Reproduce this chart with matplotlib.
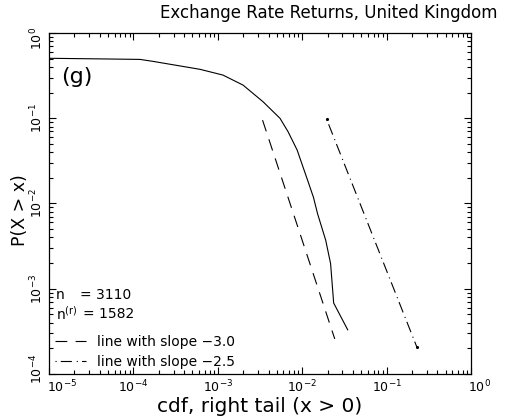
import numpy as np
import matplotlib
matplotlib.use("Agg")
import matplotlib.pyplot as plt
from matplotlib.ticker import LogLocator, NullFormatter
from matplotlib.transforms import ScaledTranslation

cdf_x = [1e-5, 4e-5, 1.2e-4, 1.7e-4, 6.15e-4, 1.15e-3, 1.99e-3, 3.44e-3,
         5.46e-3, 6.8e-3, 8.7e-3, 1.16e-2, 1.36e-2, 1.52e-2, 1.9e-2,
         2.17e-2, 2.36e-2, 3.46e-2]
cdf_p = [0.505, 0.497, 0.490, 0.465, 0.375, 0.321, 0.245, 0.156,
         0.0998, 0.0695, 0.0425, 0.0187, 0.0118, 0.0076, 0.0037,
         0.00197, 0.00068, 0.00033]

# reference power-law lines: (x start, p start, x end, slope)
line_a = (3.39e-3, 0.095, 2.43e-2, -3.0)
line_b = (1.95e-2, 0.097, 2.286e-1, -2.5)

n_total = 3110
n_right = 1582

title = "Exchange Rate Returns, United Kingdom"
xlabel = "cdf, right tail (x > 0)"
ylabel = "P(X > x)"


def power_line(spec):
    x0, p0, x1, slope = spec
    xs = np.array([x0, x1])
    return xs, p0 * (xs / x0) ** slope


plt.rcParams['font.family'] = ['DejaVu Sans']
plt.rcParams['lines.scale_dashes'] = False
plt.rcParams['mathtext.default'] = 'regular'

fig = plt.figure(figsize=(5.11, 4.19), dpi=100)
ax = fig.add_axes([49 / 511, 1 - 374 / 419, 422 / 511, 341 / 419])

ax.plot(cdf_x, cdf_p, color='black', lw=0.8)

xa, pa = power_line(line_a)
ax.plot(xa, pa, color='black', lw=0.8, linestyle=(0, (8.5, 6)),
        label="line with slope \u22123.0")
xb, pb = power_line(line_b)
ax.plot(xb, pb, color='black', lw=0.8, linestyle=(0, (0.8, 3, 8, 3.5)),
        label="line with slope \u22122.5")
ax.plot([xb[0], xb[-1]], [pb[0], pb[-1]], 'k.', ms=2.5)

ax.set_xscale('log')
ax.set_yscale('log')
ax.set_xlim(1e-5, 1e0)
ax.set_ylim(1e-4, 1e0)
ax.set_xticks([1e-5, 1e-4, 1e-3, 1e-2, 1e-1, 1e0])
ax.set_yticks([1e-4, 1e-3, 1e-2, 1e-1, 1e0])
for axis in (ax.xaxis, ax.yaxis):
    axis.set_minor_locator(LogLocator(base=10, subs=np.arange(2, 10),
                                      numticks=100))
    axis.set_minor_formatter(NullFormatter())

for s in ax.spines.values():
    s.set_linewidth(0.9)
ax.tick_params(which='both', direction='in', top=True, right=True,
               color='black', width=0.8)
ax.tick_params(which='major', length=4.8, labelsize=9)
ax.tick_params(axis='x', which='major', pad=3.5)
ax.tick_params(axis='y', which='major', pad=2.5)
ax.tick_params(which='minor', length=2.7)

# shift the corner labels inward, as in the original
xlabs = ax.get_xticklabels()
ylabs = ax.get_yticklabels()
for lab in ylabs:
    lab.set_rotation(90)
    lab.set_va('center')
xlabs[0].set_transform(xlabs[0].get_transform()
                       + ScaledTranslation(13 / 100, 0, fig.dpi_scale_trans))
xlabs[-1].set_transform(xlabs[-1].get_transform()
                        + ScaledTranslation(9 / 100, 0, fig.dpi_scale_trans))
ylabs[0].set_transform(ylabs[0].get_transform()
                       + ScaledTranslation(0, 5 / 100, fig.dpi_scale_trans))
ylabs[-1].set_transform(ylabs[-1].get_transform()
                        + ScaledTranslation(0, -5 / 100, fig.dpi_scale_trans))

ax.set_xlabel(xlabel, fontsize=14.5, labelpad=1)
fig.text(20 / 511, 1 - 210 / 419, ylabel, rotation=90, fontsize=12.5,
         ha='center', va='center')
fig.text(498 / 511, 1 - 13 / 419, title, fontsize=12, ha='right', va='center')

ax.text(0.028, 0.872, "(g)", transform=ax.transAxes, fontsize=16,
        ha='left', va='center')
ax.text(0.016, 0.232, "n", transform=ax.transAxes, fontsize=10, va='center')
ax.text(0.073, 0.232, "= %d" % n_total, transform=ax.transAxes, fontsize=10,
        va='center')
ax.text(0.016, 0.176, "n$^{(r)}$", transform=ax.transAxes, fontsize=10,
        va='center')
ax.text(0.080, 0.176, "= %d" % n_right, transform=ax.transAxes, fontsize=10,
        va='center')

ax.legend(loc='lower left', bbox_to_anchor=(0.015, 0.015), frameon=False,
          fontsize=10, handlelength=2.2, handletextpad=0.8, borderpad=0,
          borderaxespad=0, labelspacing=0.45)

fig.savefig("out.png", dpi=100)
